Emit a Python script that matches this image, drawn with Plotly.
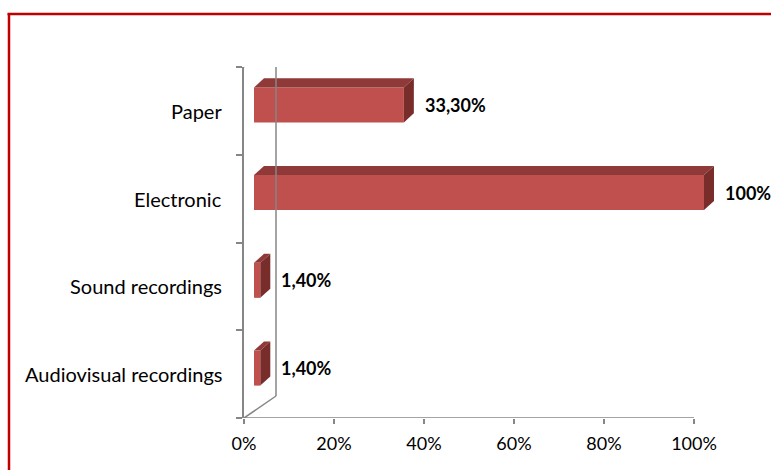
import plotly.graph_objects as go

categories = ["Audiovisual recordings", "Sound recordings", "Electronic", "Paper"]
values = [1.4, 1.4, 100.0, 33.3]
labels = ["1,40%", "1,40%", "100%", "33,30%"]
x_ticks = [0, 20, 40, 60, 80, 100]

W, H = 771, 470
X0PX, X1PX = 244, 694          # pixel span of 0..100 %
YBOT, YTOP = 418, 67           # pixel span of category axis
NC = len(categories)
ux = 100.0 / (X1PX - X0PX)     # data units per px (x)
uy = NC / (YBOT - YTOP)        # data units per px (y)
XMAX = (W - X0PX) * ux         # extend range to right edge of figure

FRONT = "#C0504D"
TOP = "#8F3A38"
SIDE = "#782D2B"
AX = "#868686"
FONT = "Lato"

fig = go.Figure()

bx0 = 10 * ux       # bar start offset (depth)
ddx = 10 * ux       # bar depth offset x
ddy = 9 * uy        # bar depth offset y
hh = 35 * uy / 2    # half bar height
lift = 6 * uy

for i, (c, v) in enumerate(zip(categories, values)):
    yc = i + 0.5 + lift
    x1 = bx0 + v
    bot, top = yc - hh, yc + hh
    # front face
    fig.add_trace(go.Scatter(x=[bx0, x1, x1, bx0, bx0], y=[bot, bot, top, top, bot],
                             fill="toself", fillcolor=FRONT, mode="lines",
                             line=dict(width=0), hoverinfo="skip", showlegend=False))
    # top face
    fig.add_trace(go.Scatter(x=[bx0, x1, x1 + ddx, bx0 + ddx, bx0],
                             y=[top, top, top + ddy, top + ddy, top],
                             fill="toself", fillcolor=TOP, mode="lines",
                             line=dict(width=0), hoverinfo="skip", showlegend=False))
    # side face
    fig.add_trace(go.Scatter(x=[x1, x1, x1 + ddx, x1 + ddx, x1],
                             y=[bot, top, top + ddy, bot + ddy, bot],
                             fill="toself", fillcolor=SIDE, mode="lines",
                             line=dict(width=0), hoverinfo="skip", showlegend=False))
    # data label
    fig.add_annotation(x=x1, y=yc, text="<b>%s</b>" % labels[i], showarrow=False,
                       xanchor="left", yanchor="middle", xshift=19,
                       font=dict(family=FONT, size=18, color="#000000"))
    # category label
    fig.add_annotation(x=0, y=i + 0.5, text=c, showarrow=False,
                       xanchor="right", yanchor="middle", xshift=-20,
                       font=dict(family=FONT, size=20, color="#000000"))

line_style = dict(color=AX, width=1.5)
# bottom axis line (0..100 only)
fig.add_shape(type="line", x0=0, y0=0, x1=100, y1=0, line=line_style)
# back wall lines
wdx = 32 * ux
wdy = 22 * uy
fig.add_shape(type="line", x0=0, y0=NC, x1=wdx, y1=NC + wdy, line=line_style)
fig.add_shape(type="line", x0=wdx, y0=NC + wdy, x1=wdx, y1=wdy, line=line_style)
fig.add_shape(type="line", x0=0, y0=0, x1=wdx, y1=wdy, line=line_style)

# outer red frame (left and top edges visible)
red = dict(color="#C00000", width=2.5)
fl = 9 / W
ft = (H - 14) / H
fig.add_shape(type="line", xref="paper", yref="paper", x0=fl, y0=-0.05, x1=fl, y1=ft, line=red)
fig.add_shape(type="line", xref="paper", yref="paper", x0=fl - 0.002, y0=ft, x1=1.05, y1=ft, line=red)

fig.update_layout(
    width=W, height=H,
    margin=dict(l=0, r=0, t=0, b=0, autoexpand=False),
    paper_bgcolor="white", plot_bgcolor="white",
    showlegend=False,
    xaxis=dict(domain=[X0PX / W, 1.0], range=[0, XMAX],
               tickvals=x_ticks, ticktext=["%d%%" % t for t in x_ticks],
               ticks="outside", ticklen=5, tickcolor=AX, tickwidth=1.5,
               ticklabelstandoff=4,
               showline=False, showgrid=False, zeroline=False,
               tickfont=dict(family=FONT, size=18, color="#000000")),
    yaxis=dict(domain=[(H - YBOT) / H, (H - YTOP) / H], range=[0, NC],
               tickvals=list(range(NC + 1)), showticklabels=False,
               ticks="outside", ticklen=6, tickcolor=AX, tickwidth=1.5,
               showline=True, linecolor=AX, linewidth=1.5,
               showgrid=False, zeroline=False),
)

fig.write_html("out.html")
